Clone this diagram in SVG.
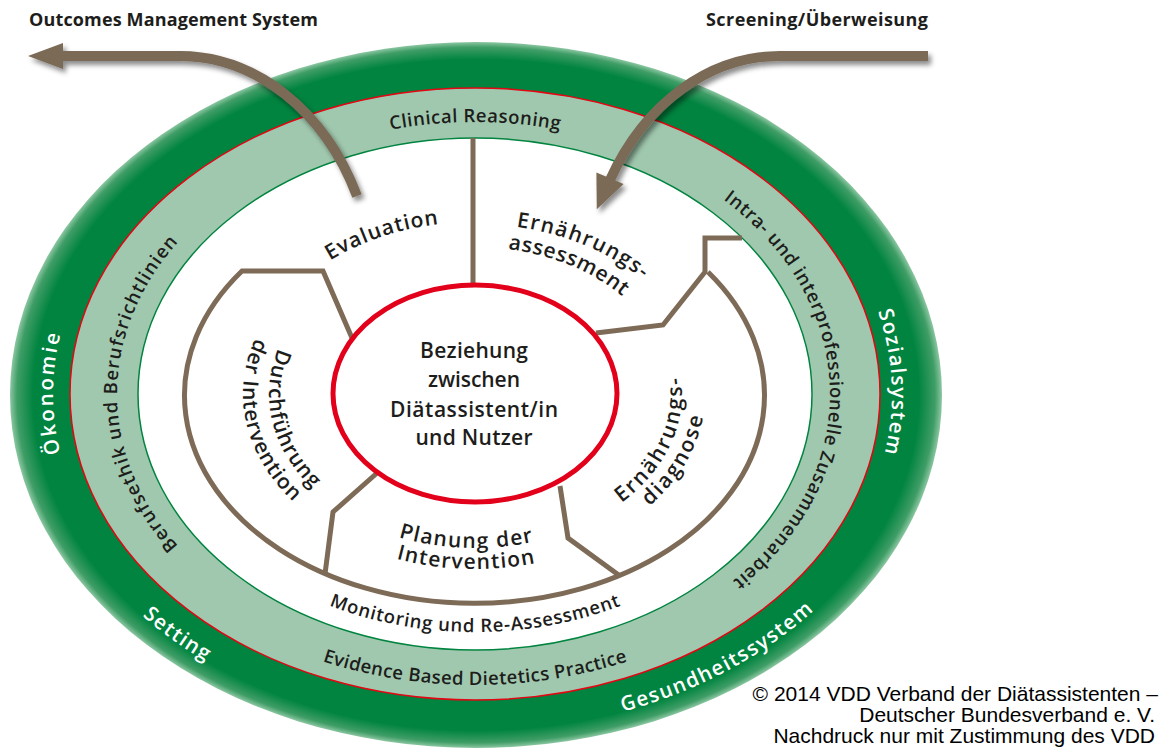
<svg xmlns="http://www.w3.org/2000/svg" xmlns:xlink="http://www.w3.org/1999/xlink" width="1175" height="754" viewBox="0 0 1175 754">
<style>
.t{font-family:"Open Sans","Noto Sans","DejaVu Sans",sans-serif;fill:#1d1d1b;font-weight:600}
.band{font-size:18.5px;font-weight:600}
.inner{font-size:21px}
.white{fill:#ffffff;font-size:20.5px;font-weight:600}
.head{font-size:18px;font-weight:700}
.center{font-size:21px;text-anchor:middle}
.copy{font-family:"Liberation Sans",Arial,sans-serif;font-size:21px;fill:#000;text-anchor:end}
.brown{fill:none;stroke:#7d6b57;stroke-width:5;stroke-linejoin:miter}
.arrow{fill:none;stroke:#7a6a56;stroke-width:10}
.ahead{fill:#7a6a56}
</style>
<defs>
<radialGradient id="gOuter" cx="0.5" cy="0.5" r="0.5">
<stop offset="0" stop-color="#00843f"/>
<stop offset="0.95" stop-color="#00843f"/>
<stop offset="0.985" stop-color="#3f9d66"/>
<stop offset="1" stop-color="#8cc7a2"/>
</radialGradient>
<filter id="shadow" x="-20%" y="-20%" width="140%" height="140%">
<feDropShadow dx="3" dy="4" stdDeviation="2.5" flood-color="#000" flood-opacity="0.45"/>
</filter>
<path id="p-clin" d="M 269.7 171.2 A 358 272 0 0 1 680.3 171.2"/>
<path id="p-beruf" d="M 269.7 616.8 A 358 272 0 0 1 269.7 171.2"/>
<path id="p-intra" d="M 630.6 149.5 A 355 272 0 0 1 641.7 634.1"/>
<path id="p-evid" d="M 254.2 632.4 A 385 291 0 0 0 695.8 632.4"/>
<path id="p-moni" d="M 292.6 589 A 318 238 0 0 0 657.4 589"/>
<path id="p-oeko" d="M 109.5 554 A 422 320 0 0 1 109.5 234"/>
<path id="p-sozi" d="M 828.6 224.4 A 417 320 0 0 1 843.2 544.1"/>
<path id="p-sett" d="M 77.7 541.7 A 442 337 0 0 0 295.2 701.9"/>
<path id="p-gesu" d="M 521.2 729.2 A 442 337 0 0 0 878.8 531.1"/>
<path id="p-eval" d="M 275.8 308 A 230 172 0 0 1 511 224.1"/>
<path id="p-ern1" d="M 455.2 224.6 A 227 170 0 0 1 682.4 324.9"/>
<path id="p-ern2" d="M 457.8 247.6 A 197 147 0 0 1 655 334.2"/>
<path id="p-dur1" d="M 288.3 328.9 A 206 154 0 0 0 329.3 502.9"/>
<path id="p-dur2" d="M 265.6 319.5 A 232 173 0 0 0 309.5 515.3"/>
<path id="p-dia1" d="M 597.8 518 A 207 154 0 0 0 673.6 350.5"/>
<path id="p-dia2" d="M 598.6 539.1 A 230 172 0 0 0 699.5 356.8"/>
<path id="p-pla1" d="M 348.1 515.7 A 207 154 0 0 0 585.3 524.3"/>
<path id="p-pla2" d="M 332.5 532.8 A 234 175 0 0 0 600.7 541.6"/>
</defs>

<g id="outer-ring">
<ellipse cx="476" cy="395" rx="466" ry="353" fill="url(#gOuter)"/>
<text class="t white"><textPath xlink:href="#p-oeko" href="#p-oeko" startOffset="50%" text-anchor="middle" textLength="120" lengthAdjust="spacing">Ökonomie</textPath></text>
<text class="t white"><textPath xlink:href="#p-sozi" href="#p-sozi" startOffset="50%" text-anchor="middle" textLength="144" lengthAdjust="spacing">Sozialsystem</textPath></text>
<text class="t white"><textPath xlink:href="#p-sett" href="#p-sett" startOffset="50%" text-anchor="middle" textLength="78" lengthAdjust="spacing">Setting</textPath></text>
<text class="t white"><textPath xlink:href="#p-gesu" href="#p-gesu" startOffset="50%" text-anchor="middle" textLength="218" lengthAdjust="spacing">Gesundheitssystem</textPath></text>
</g>

<g id="middle-ring">
<ellipse cx="475" cy="394" rx="405" ry="306" fill="#a0c8ae" stroke="#e30613" stroke-width="1.5"/>
<text class="t band"><textPath xlink:href="#p-clin" href="#p-clin" startOffset="50%" text-anchor="middle" textLength="170" lengthAdjust="spacing">Clinical Reasoning</textPath></text>
<text class="t band"><textPath xlink:href="#p-beruf" href="#p-beruf" startOffset="50%" text-anchor="middle" textLength="335" lengthAdjust="spacing">Berufsethik und Berufsrichtlinien</textPath></text>
<text class="t band"><textPath xlink:href="#p-intra" href="#p-intra" startOffset="50%" text-anchor="middle" textLength="448" lengthAdjust="spacing">Intra- und interprofessionelle Zusammenarbeit</textPath></text>
<text class="t band"><textPath xlink:href="#p-evid" href="#p-evid" startOffset="50%" text-anchor="middle" textLength="310" lengthAdjust="spacing">Evidence Based Dietetics Practice</textPath></text>
</g>

<g id="inner-area">
<ellipse cx="475" cy="394" rx="337" ry="256" fill="#ffffff" stroke="#00843f" stroke-width="1.5"/>
<text class="t band"><textPath xlink:href="#p-moni" href="#p-moni" startOffset="50%" text-anchor="middle" textLength="298" lengthAdjust="spacing">Monitoring und Re-Assessment</textPath></text>
</g>

<g id="process-cycle">
<path class="brown" d="M 473 138 L 473 286"/>
<path class="brown" d="M 352 338 L 323 271 L 242 271 A 290 208 0 1 0 708 272"/>
<path class="brown" d="M 596 333 L 663 325 L 705 272 L 705 238 L 742 238"/>
<path class="brown" d="M 377 473 L 333 512 L 325 574"/>
<path class="brown" d="M 560 486 L 568 538 L 620 576"/>
</g>

<g id="step-evaluation">
<text class="t inner"><textPath xlink:href="#p-eval" href="#p-eval" startOffset="50%" text-anchor="middle" textLength="115" lengthAdjust="spacing">Evaluation</textPath></text>
</g>
<g id="step-assessment">
<text class="t inner"><textPath xlink:href="#p-ern1" href="#p-ern1" startOffset="50%" text-anchor="middle" textLength="138" lengthAdjust="spacing">Ernährungs-</textPath></text>
<text class="t inner"><textPath xlink:href="#p-ern2" href="#p-ern2" startOffset="50%" text-anchor="middle" textLength="125" lengthAdjust="spacing">assessment</textPath></text>
</g>
<g id="step-diagnose">
<text class="t inner"><textPath xlink:href="#p-dia1" href="#p-dia1" startOffset="50%" text-anchor="middle" textLength="146" lengthAdjust="spacing">Ernährungs-</textPath></text>
<text class="t inner"><textPath xlink:href="#p-dia2" href="#p-dia2" startOffset="50%" text-anchor="middle" textLength="106" lengthAdjust="spacing">diagnose</textPath></text>
</g>
<g id="step-planung">
<text class="t inner"><textPath xlink:href="#p-pla1" href="#p-pla1" startOffset="50%" text-anchor="middle" textLength="136" lengthAdjust="spacing">Planung der</textPath></text>
<text class="t inner"><textPath xlink:href="#p-pla2" href="#p-pla2" startOffset="50%" text-anchor="middle" textLength="140" lengthAdjust="spacing">Intervention</textPath></text>
</g>
<g id="step-durchfuehrung">
<text class="t inner"><textPath xlink:href="#p-dur1" href="#p-dur1" startOffset="50%" text-anchor="middle" textLength="154" lengthAdjust="spacing">Durchführung</textPath></text>
<text class="t inner"><textPath xlink:href="#p-dur2" href="#p-dur2" startOffset="50%" text-anchor="middle" textLength="180" lengthAdjust="spacing">der Intervention</textPath></text>
</g>

<g id="center">
<ellipse cx="475" cy="393.5" rx="142" ry="108.5" fill="#ffffff" stroke="#e2001a" stroke-width="5"/>
<text class="t center" x="474" y="358" textLength="108" lengthAdjust="spacing">Beziehung</text>
<text class="t center" x="474" y="387" textLength="92" lengthAdjust="spacing">zwischen</text>
<text class="t center" x="474" y="417" textLength="168" lengthAdjust="spacing">Diätassistent/in</text>
<text class="t center" x="474" y="445" textLength="117" lengthAdjust="spacing">und Nutzer</text>
</g>

<g id="connectors">
<g id="arrow-outcomes" filter="url(#shadow)">
<path class="arrow" d="M 357 196 A 196 243 0 0 0 180 56 L 60 56"/>
<polygon class="ahead" points="28,56 63,43 63,69"/>
</g>
<g id="arrow-screening" filter="url(#shadow)">
<path class="arrow" d="M 928 56 L 780 56 A 195 244 0 0 0 610 180"/>
<polygon class="ahead" points="596.8,209.2 623.6,184.1 596.4,172.5"/>
</g>
</g>

<g id="headings">
<text class="t head" x="29" y="26" textLength="289" lengthAdjust="spacing">Outcomes Management System</text>
<text class="t head" x="706" y="26" textLength="222" lengthAdjust="spacing">Screening/Überweisung</text>
</g>

<g id="copyright">
<text class="copy" x="1158" y="701">© 2014 VDD Verband der Diätassistenten –</text>
<text class="copy" x="1155" y="722">Deutscher Bundesverband e. V.</text>
<text class="copy" x="1155" y="743">Nachdruck nur mit Zustimmung des VDD</text>
</g>
</svg>
